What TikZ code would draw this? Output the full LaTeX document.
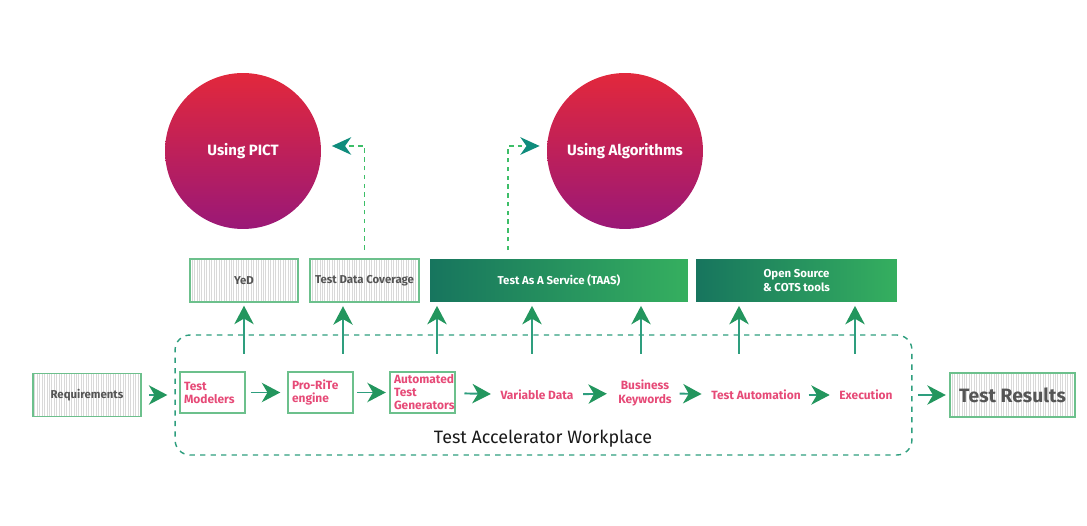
\documentclass[tikz,border=0pt]{standalone}
\usepackage{fontspec}
\setmainfont{Fira Sans}
\usetikzlibrary{arrows.meta, positioning, patterns.meta}
\definecolor{pinktxt}{HTML}{E64A77}
\definecolor{graytxt}{HTML}{555555}
\definecolor{boxgreen}{HTML}{6CC08C}
\definecolor{flowgreen}{HTML}{2E9E7E}
\definecolor{headgreen}{HTML}{23965E}
\definecolor{dotgreen}{HTML}{3DBE68}
\definecolor{tipteal}{HTML}{0F8C7C}
\definecolor{taasleft}{HTML}{17755E}
\definecolor{taasmid}{HTML}{0B968C}
\definecolor{taasright}{HTML}{35AF5F}
\definecolor{circtop}{HTML}{E2283C}
\definecolor{circbot}{HTML}{9A1877}

\begin{document}
\begin{tikzpicture}[x=0.02cm, y=-0.02cm,
    hatchbox/.style={draw=boxgreen, line width=0.8pt, pattern={Lines[angle=90,distance=1.4pt,line width=0.25pt]},
                     pattern color=gray!30, text=graytxt, font=\bfseries\fontsize{6.5}{7.5}\selectfont},
    stagebox/.style={draw=boxgreen, line width=0.8pt, minimum width=1.3cm, minimum height=0.82cm,
                     text width=1.14cm, align=left, inner sep=1pt, text=pinktxt, font=\bfseries\fontsize{6.8}{7.4}\selectfont},
    stagetext/.style={text=pinktxt, align=center, font=\bfseries\fontsize{6.8}{7.6}\selectfont},
    greenbox/.style={minimum height=0.86cm, align=center, text=white, shading=axis, left color=taasleft,
                     middle color=taasmid, right color=taasright, font=\bfseries\fontsize{6.5}{7.5}\selectfont},
    bubble/.style={circle, minimum size=3.12cm, top color=circtop, bottom color=circbot, text=white,
                   font=\bfseries\fontsize{8.5}{10}\selectfont},
    flow/.style={draw=flowgreen, line width=1.1pt, -{Stealth[length=10.5pt, width=11pt, inset=3.2pt, color=headgreen]}},
    link/.style={draw=dotgreen, line width=1pt, dash pattern=on 2.5pt off 2.5pt,
                 -{Stealth[length=11pt, width=10pt, inset=3.5pt, color=tipteal, sep=0pt]}}]
  \useasboundingbox (0,0) rectangle (1087,526);

  % circles
  \node[bubble] (pict) at (243,151) {Using PICT};
  \node[bubble] (algo) at (625,151) {Using Algorithms};

  % top row
  \node[hatchbox, minimum width=2.16cm, minimum height=0.86cm] (yed) at (244,280.5) {YeD};
  \node[hatchbox, minimum width=2.18cm, minimum height=0.86cm, inner sep=1pt] (tdc) at (364.5,280.5) {Test Data Coverage};
  \node[greenbox, minimum width=5.16cm] (taas) at (559,280.5) {Test As A Service (TAAS)};
  \node[greenbox, minimum width=4.02cm] (oss) at (796.5,280.5) {Open Source\\\& COTS tools};

  % workplace
  \node[draw=flowgreen, line width=0.8pt, dashed, rounded corners=0.3cm, minimum width=14.74cm,
        minimum height=2.4cm] (twa) at (543.5,395) {};
  \node[font=\fontsize{10.2}{12}\selectfont, text=black!90] (twalabel) at (543,439) {Test Accelerator Workplace};

  \node[hatchbox, minimum width=2.16cm, minimum height=0.86cm] (req) at (87,395) {Requirements};
  \node[hatchbox, minimum width=2.5cm, minimum height=0.88cm, font=\bfseries\fontsize{11}{13}\selectfont] (res) at (1012.5,395) {Test Results};

  \node[stagebox] (tm) at (212.5,392.5) {Test\\Modelers};
  \node[stagebox] (pr) at (320.5,392.5) {Pro-RiTe\\engine};
  \node[stagebox] (atg) at (422.5,392.5) {Automated\\Test\\Generators};
  \node[stagetext] (vd) at (537,395) {Variable Data};
  \node[stagetext] (bk) at (645,393) {Business\\Keywords};
  \node[stagetext] (ta) at (756,395) {Test Automation};
  \node[stagetext] (ex) at (866,395) {Execution};

  % flow
  \draw[flow, shorten <=4\pgflinewidth, shorten >=4pt] (req) -- (twa.west);
  \draw[flow, shorten <=3pt, shorten >=4pt] (tm) -- (pr);
  \draw[flow, shorten <=2pt, shorten >=2pt] (pr) -- (atg);
  \draw[flow, shorten <=5pt, shorten >=2pt] (atg) -- (vd);
  \draw[flow, shorten <=2pt, shorten >=3pt] (vd) -- (bk);
  \draw[flow, shorten <=1pt, shorten >=2pt] (bk) -- (ta);
  \draw[flow, shorten <=1pt, shorten >=2pt] (ta) -- (ex);
  \draw[flow, shorten <=3pt, shorten >=2pt] (twa.east) -- (res);

  % up arrows
  \foreach \x/\b in {244/yed, 343/tdc, 437/taas, 532/taas, 641/taas, 739/oss, 855/oss} {
    \coordinate (s\x) at (\x,354);
    \draw[flow, shorten >=2pt] (s\x) -- (s\x |- \b.south);
  }

  % links to the circles
  \coordinate (tq) at (508,259);
  \draw[link, shorten <=5pt, shorten >=6pt] (tdc.north) |- ([yshift=0.1cm]pict.east);
  \draw[link, shorten <=5pt, shorten >=4pt] (tq) |- ([yshift=0.1cm]algo.west);
\end{tikzpicture}
\end{document}
